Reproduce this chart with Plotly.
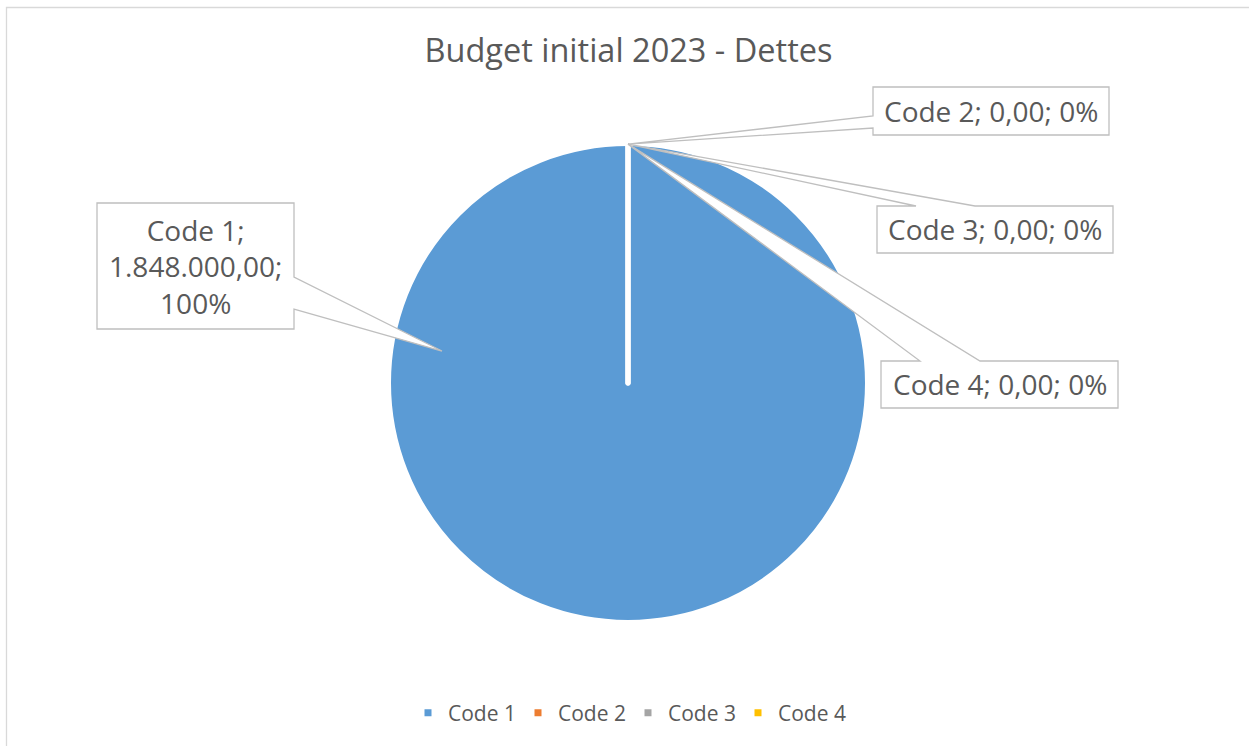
import plotly.graph_objects as go

# Data
categories = ["Code 1", "Code 2", "Code 3", "Code 4"]
values = [1848000.00, 0.00, 0.00, 0.00]
colors = ["#5B9BD5", "#ED7D31", "#A5A5A5", "#FFC000"]
title_text = "Budget initial 2023 - Dettes"

# Canvas and pie geometry (pixels)
W, H = 1249, 746
CX, CY, R = 628, 383, 237
SLICE_GAP = 5  # white slice border width
TEXT_COLOR = "#595959"
FONT = "Open Sans"


def fx(px):
    return px / W


def fy(py):
    return 1 - py / H


def euro(v):
    s = f"{v:,.2f}"
    return s.replace(",", "X").replace(".", ",").replace("X", ".")


total = sum(values)
label_texts = []
for cat, v in zip(categories, values):
    pct = round(v / total * 100) if total else 0
    label_texts.append([f"{cat};", f"{euro(v)};", f"{pct}%"])

# Callout boxes: box [x0, y0, x1, y1], side where the pointer leaves the box,
# pointer base positions along that side, pointer tip relative to centre (in radii),
# and whether the text wraps onto several lines.
callouts = [
    dict(box=(97, 203, 294, 329), side="right", base=(277, 309), tip=(-0.785, -0.135), wrap=True),
    dict(box=(873, 87, 1109, 135), side="left", base=(116, 128), tip=(0.0, -1.008), wrap=False),
    dict(box=(877, 206, 1113, 253), side="top", base=(916, 975), tip=(0.0, -1.008), wrap=False),
    dict(box=(881, 361, 1118, 408), side="top", base=(920, 980), tip=(0.0, -1.008), wrap=False),
]

# Enlarge the pie slightly so the white outline leaves the visible radius at R
r_draw = R + SLICE_GAP / 2
fig = go.Figure(
    go.Pie(
        labels=categories,
        values=values,
        marker=dict(colors=colors, line=dict(color="white", width=SLICE_GAP)),
        sort=False,
        direction="clockwise",
        rotation=0,
        textinfo="none",
        hoverinfo="label+value+percent",
        domain=dict(x=[fx(CX - r_draw), fx(CX + r_draw)], y=[fy(CY + r_draw), fy(CY - r_draw)]),
    )
)

shapes = []
annotations = []
for c, parts in zip(callouts, label_texts):
    x0, y0, x1, y1 = c["box"]
    tx, ty = CX + c["tip"][0] * R, CY + c["tip"][1] * R
    b0, b1 = c["base"]
    if c["side"] == "top":
        pts = [(x0, y0), (b0, y0), (tx, ty), (b1, y0), (x1, y0), (x1, y1), (x0, y1)]
    elif c["side"] == "right":
        pts = [(x0, y0), (x1, y0), (x1, b0), (tx, ty), (x1, b1), (x1, y1), (x0, y1)]
    else:  # left
        pts = [(x0, y0), (x1, y0), (x1, y1), (x0, y1), (x0, b1), (tx, ty), (x0, b0)]
    path = "M " + " L ".join(f"{fx(px):.5f},{fy(py):.5f}" for px, py in pts) + " Z"
    shapes.append(dict(type="path", xref="paper", yref="paper", path=path,
                       fillcolor="white", line=dict(color="#BFBFBF", width=1.3), layer="above"))
    text = "<br>".join(parts) if c["wrap"] else " ".join(parts)
    annotations.append(dict(x=fx((x0 + x1) / 2), y=fy((y0 + y1) / 2), xref="paper", yref="paper",
                            text=text, showarrow=False, xanchor="center", yanchor="middle",
                            align="center", font=dict(family=FONT, size=28, color=TEXT_COLOR)))

# Chart area border
shapes.insert(0, dict(type="rect", xref="paper", yref="paper",
                      x0=fx(6.5), y0=fy(H + 10), x1=fx(W + 10), y1=fy(7.5),
                      line=dict(color="#D9D9D9", width=1.3), fillcolor="rgba(0,0,0,0)", layer="below"))

fig.update_layout(
    width=W,
    height=H,
    margin=dict(l=0, r=0, t=0, b=0),
    paper_bgcolor="white",
    plot_bgcolor="white",
    title=dict(text=title_text, x=fx(628.5), xanchor="center", y=fy(51), yanchor="middle",
               font=dict(family=FONT, size=32.5, color=TEXT_COLOR)),
    legend=dict(orientation="h", x=fx(628), xanchor="center", y=fy(713), yanchor="middle",
                font=dict(family=FONT, size=21, color=TEXT_COLOR), entrywidth=65,
                traceorder="normal", bgcolor="rgba(0,0,0,0)"),
    shapes=shapes,
    annotations=annotations,
)

fig.write_html("out.html")
